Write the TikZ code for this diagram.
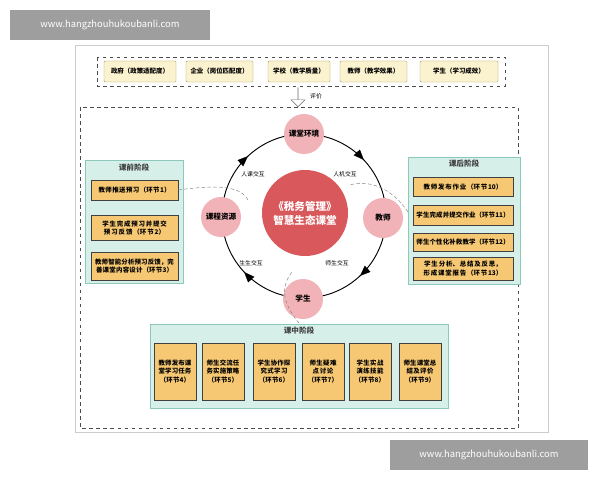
\documentclass[tikz,border=0pt]{standalone}
\usepackage{fontspec}
\setmainfont{Noto Sans CJK SC}
\XeTeXlinebreaklocale "zh"
\XeTeXlinebreakskip=0pt plus 1pt
\usetikzlibrary{arrows.meta,shapes.arrows,calc}
\definecolor{ybox}{HTML}{FBF2CF}
\definecolor{ybd}{HTML}{A89C55}
\definecolor{teal}{HTML}{D6EFE9}
\definecolor{tealbd}{HTML}{8CC9BC}
\definecolor{obox}{HTML}{F7C873}
\definecolor{pinkc}{HTML}{F2B3B8}
\definecolor{redc}{HTML}{D9585B}
\definecolor{wm}{HTML}{9E9E9E}
\begin{document}
\begin{tikzpicture}[x=0.03cm,y=-0.03cm,
  wmark/.style={fill=wm,text=white,font=\fontsize{8}{9}\selectfont,inner sep=0},
  top/.style={draw=ybd,fill=ybox,font=\fontsize{5.5}{6}\selectfont\bfseries,rounded corners=1pt,inner sep=0},
  panel/.style={draw=tealbd,fill=teal},
  ob/.style={draw=black!75,fill=obox,font=\fontsize{5.5}{7}\selectfont\bfseries,align=center,inner sep=1pt},
  ptitle/.style={font=\fontsize{6.5}{7}\selectfont\bfseries,text=black!75},
  pc/.style={circle,fill=pinkc,minimum size=40*0.03cm,inner sep=0,font=\fontsize{6.5}{7}\selectfont\bfseries},
  lab/.style={font=\fontsize{5}{6}\selectfont},
  dd/.style={densely dashed,gray,thin},
  ring/.style={thick,-{Triangle[length=9pt,width=7pt]}}]
\useasboundingbox (0,0) rectangle (600,480);
\fill[white] (0,0) rectangle (600,480);
\draw[black!20] (75,45) rectangle (548,432);
\node[wmark,minimum width=200*0.03cm,minimum height=30*0.03cm] (w1) at (110,25) {www.hangzhouhukoubanli.com};
\node[wmark,minimum width=198*0.03cm,minimum height=30*0.03cm] (w2) at (489,455) {www.hangzhouhukoubanli.com};
% top
\draw[dashed,thick,black!70] (97,57) rectangle (505,86);
\node[top,minimum width=72*0.03cm,minimum height=21*0.03cm] (t1) at (140,71.5) {政府（政策适配度）};
\node[top,minimum width=67*0.03cm,minimum height=21*0.03cm] (t2) at (219.5,71.5) {企业（岗位匹配度）};
\node[top,minimum width=62*0.03cm,minimum height=21*0.03cm] (t3) at (299,71.5) {学校（教学质量）};
\node[top,minimum width=67*0.03cm,minimum height=21*0.03cm] (t4) at (373.5,71.5) {教师（教学效果）};
\node[top,minimum width=78*0.03cm,minimum height=21*0.03cm] (t5) at (459,71.5) {学生（学习成效）};
\node[single arrow,draw=black!60,fill=white,shape border rotate=270,minimum width=14*0.03cm,minimum height=19*0.03cm,single arrow head extend=3*0.03cm,inner sep=0] (ar) at (298,97) {};
\node[lab] (pj) at (316,96) {评价};
\draw[dashed,thick,black!70] (80,107) rectangle (518,428);
% ring
\coordinate (c) at (304,216);
\draw[thick] (c) circle [radius=82];
\foreach \a in {45,135,225,315}{
  \draw[ring] ($(c)+(\a-5:82)$) arc[start angle=\a-5,end angle=\a+2,radius=82];}
\node[circle,fill=redc,minimum size=86*0.03cm,text=white,align=center,font=\fontsize{9}{12}\selectfont\bfseries] (ctr) at (305,213) {《税务管理》\\智慧生态课堂};
\node[pc] (n1) at (304,134) {课堂环境};
\node[pc] (n2) at (383,218) {教师};
\node[pc] (n3) at (303,299) {学生};
\node[pc] (n4) at (221,217) {课程资源};
\node[lab] (l1) at (253,174) {人课交互};
\node[lab] (l2) at (345,174) {人机交互};
\node[lab] (l3) at (251,263) {生生交互};
\node[lab] (l4) at (337,263) {师生交互};
% left panel
\draw[panel] (85,160) rectangle (183,283);
\node[ptitle] (p1) at (134,168) {课前阶段};
\node[ob,minimum width=87*0.03cm,minimum height=20*0.03cm,text width=82*0.03cm] (a1) at (134.5,190) {教师推送预习（环节1）};
\node[ob,minimum width=87*0.03cm,minimum height=25*0.03cm,text width=82*0.03cm] (a2) at (134.5,228) {学生完成预习并提交预习反馈（环节2）};
\node[ob,minimum width=87*0.03cm,minimum height=28*0.03cm,text width=82*0.03cm] (a3) at (134.5,266) {教师智能分析预习反馈，完善课堂内容设计（环节3）};
% right panel
\draw[panel] (408,157) rectangle (520,284);
\node[ptitle] (p2) at (464,164) {课后阶段};
\node[ob,minimum width=100*0.03cm,minimum height=19*0.03cm,text width=96*0.03cm] (b1) at (463,187) {教师发布作业（环节10）};
\node[ob,minimum width=100*0.03cm,minimum height=20*0.03cm,text width=96*0.03cm] (b2) at (463,215) {学生完成并提交作业（环节11）};
\node[ob,minimum width=100*0.03cm,minimum height=18*0.03cm,text width=96*0.03cm] (b3) at (463,242) {师生个性化补救教学（环节12）};
\node[ob,minimum width=100*0.03cm,minimum height=23*0.03cm,text width=96*0.03cm] (b4) at (463,268.5) {学生分析、总结及反思，形成课堂报告（环节13）};
% bottom panel
\draw[panel] (150,324) rectangle (448,408);
\node[ptitle] (p3) at (299,331) {课中阶段};
\foreach \x/\t [count=\i] in {175/教师发布课堂学习任务\\（环节4）,223/师生交流任务实施策略\\（环节5）,274/学生协作探究式学习\\（环节6）,323/师生疑难点讨论\\（环节7）,370/学生实战演练技能\\（环节8）,420/师生课堂总结及评价\\（环节9）}{
  \node[ob,minimum width=42*0.03cm,minimum height=57*0.03cm,text width=36*0.03cm] (m\i) at (\x,371.5) {\t};}
% connectors
\draw[dd] (a1.east) .. controls (215,185) and (240,185) .. (248,200);
\draw[dd] (408,212) .. controls (390,185) and (365,180) .. (350,185);
\draw[dd] (p3.north) .. controls (280,300) and (282,285) .. (292,272);
\end{tikzpicture}
\end{document}
